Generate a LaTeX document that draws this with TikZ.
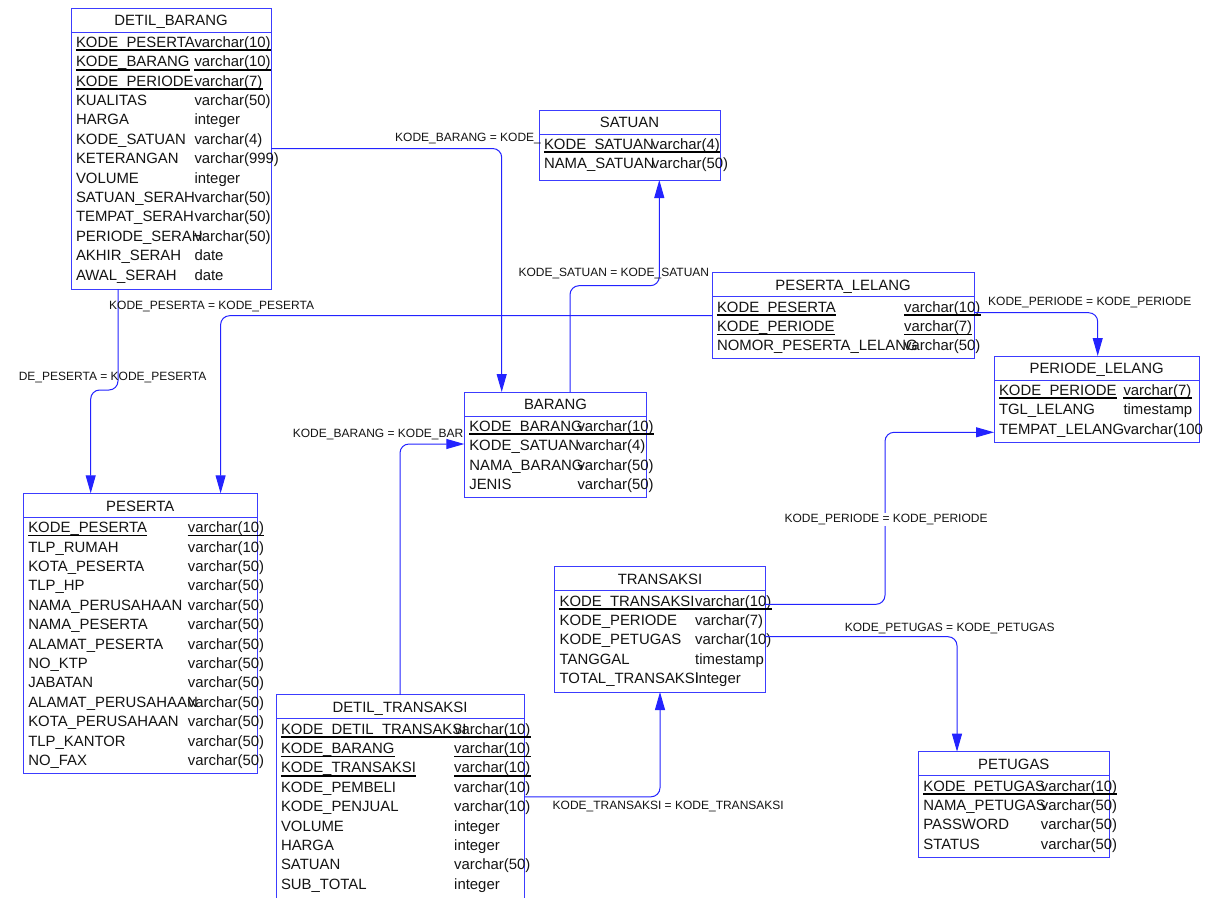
\documentclass[tikz,border=0pt]{standalone}
\usepackage{fontspec}
\setmainfont{Liberation Sans}
\usetikzlibrary{arrows.meta,calc}
\definecolor{erblue}{RGB}{35,35,255}
\definecolor{boxblue}{RGB}{60,60,255}
\definecolor{txt}{RGB}{20,20,20}

\tikzset{
  tbl/.style={draw=boxblue, line width=1pt, fill=white, inner sep=0pt, outer sep=0pt, anchor=north west},
  sepline/.style={draw=boxblue, line width=1pt},
  cell/.style={anchor=base west, inner sep=0pt, text=txt, font=\fontsize{14.9}{17}\selectfont},
  ttl/.style={anchor=base, inner sep=0pt, text=txt, font=\fontsize{14.9}{17}\selectfont},
  keyline/.style={draw=black, line width=1.7pt},
  rel/.style={draw=erblue, line width=1pt, rounded corners=9pt, -{Triangle[length=18pt,width=10pt]}},
  lbl/.style={anchor=base west, inner sep=0pt, text=txt, font=\fontsize{12}{14}\selectfont},
}

% #1 name #2 left #3 right #4 top #5 bottom #6 title #7 col2 x #8 rows
\newcommand\ertable[8]{%
  \pgfmathsetmacro\erw{#3-#2}%
  \pgfmathsetmacro\erh{#5-#4}%
  \node[tbl, minimum width=\erw pt, minimum height=\erh pt] (#1) at (#2,#4) {};
  \draw[sepline] ($(#1.north west)+(0,24)$) -- ($(#1.north east)+(0,24)$);
  \node[ttl] (#1-t) at ($(#1.north)+(0,17.7)$) {#6};
  \foreach \nm/\ty/\k [count=\i] in {#8} {
    \pgfmathsetmacro\yy{#4+39.3+19.4*(\i-1)}
    \node[cell] (#1-n\i) at ({#2+4.8},\yy) {\nm};
    \node[cell] (#1-d\i) at (#7,\yy) {\ty};
    \ifnum\k=1
      \draw[keyline] ([yshift=-3pt]#1-n\i.base west) -- ([yshift=-3pt]#1-n\i.base east);
      \draw[keyline] ([yshift=-3pt]#1-d\i.base west) -- ([yshift=-3pt]#1-d\i.base east);
    \fi
  }
}

\begin{document}
\begin{tikzpicture}[x=1pt,y=-1pt]
\path[use as bounding box, fill=white] (0,0) rectangle (1207,897);

% tables
\ertable{DB}{71}{271}{8}{289}{DETIL\_BARANG}{194.3}{KODE\_PESERTA/varchar(10)/1, KODE\_BARANG/varchar(10)/1, KODE\_PERIODE/varchar(7)/1, KUALITAS/varchar(50)/0, HARGA/integer/0, KODE\_SATUAN/varchar(4)/0, KETERANGAN/varchar(999)/0, VOLUME/integer/0, SATUAN\_SERAH/varchar(50)/0, TEMPAT\_SERAH/varchar(50)/0, PERIODE\_SERAH/varchar(50)/0, AKHIR\_SERAH/date/0, AWAL\_SERAH/date/0}

\ertable{SAT}{539}{720}{110}{180}{SATUAN}{651.7}{KODE\_SATUAN/varchar(4)/1, NAMA\_SATUAN/varchar(50)/0}

\ertable{PL}{712}{974}{272.7}{358.7}{PESERTA\_LELANG}{904}{KODE\_PESERTA/varchar(10)/1, KODE\_PERIODE/varchar(7)/1, NOMOR\_PESERTA\_LELANG/varchar(50)/0}

\ertable{PER}{994}{1199.3}{356}{442}{PERIODE\_LELANG}{1123.3}{KODE\_PERIODE/varchar(7)/1, TGL\_LELANG/timestamp/0, TEMPAT\_LELANG/varchar(100/0}

\ertable{BAR}{464.3}{646.7}{392}{497.3}{BARANG}{577.3}{KODE\_BARANG/varchar(10)/1, KODE\_SATUAN/varchar(4)/0, NAMA\_BARANG/varchar(50)/0, JENIS/varchar(50)/0}

\ertable{PES}{23.3}{257.3}{493.3}{773.3}{PESERTA}{187.7}{KODE\_PESERTA/varchar(10)/1, TLP\_RUMAH/varchar(10)/0, KOTA\_PESERTA/varchar(50)/0, TLP\_HP/varchar(50)/0, NAMA\_PERUSAHAAN/varchar(50)/0, NAMA\_PESERTA/varchar(50)/0, ALAMAT\_PESERTA/varchar(50)/0, NO\_KTP/varchar(50)/0, JABATAN/varchar(50)/0, ALAMAT\_PERUSAHAAN/varchar(50)/0, KOTA\_PERUSAHAAN/varchar(50)/0, TLP\_KANTOR/varchar(50)/0, NO\_FAX/varchar(50)/0}

\ertable{TRA}{554.6}{765.4}{566.7}{692}{TRANSAKSI}{695}{KODE\_TRANSAKSI/varchar(10)/1, KODE\_PERIODE/varchar(7)/0, KODE\_PETUGAS/varchar(10)/0, TANGGAL/timestamp/0, TOTAL\_TRANSAKSI/integer/0}

\ertable{DT}{276}{524}{694.8}{898}{DETIL\_TRANSAKSI}{454}{KODE\_DETIL\_TRANSAKSI/varchar(10)/1, KODE\_BARANG/varchar(10)/1, KODE\_TRANSAKSI/varchar(10)/1, KODE\_PEMBELI/varchar(10)/0, KODE\_PENJUAL/varchar(10)/0, VOLUME/integer/0, HARGA/integer/0, SATUAN/varchar(50)/0, SUB\_TOTAL/integer/0}

\ertable{PET}{918.3}{1109.3}{751.7}{857.3}{PETUGAS}{1040.7}{KODE\_PETUGAS/varchar(10)/1, NAMA\_PETUGAS/varchar(50)/0, PASSWORD/varchar(50)/0, STATUS/varchar(50)/0}

% relationships
\draw[rel] (DB.east) -| ([xshift=37.4pt]BAR.north west);
\draw[rel] ([xshift=105.7pt]BAR.north west) -- ++(0,-106.3) -| ([xshift=120.3pt]SAT.south west);
\draw[rel] (PL.west) -| ([xshift=197.3pt]PES.north west);
\draw[rel] ([xshift=47pt]DB.south west) -- ++(0,101) -| ([xshift=67.4pt]PES.north west);
\draw[rel] ([yshift=-37.6pt]TRA.north east) -- ++(119.6,0) |- ([yshift=-76.3pt]PER.north west);
\draw[rel] ([yshift=-40pt]PL.north east) -| ([xshift=103.7pt]PER.north west);
\draw[rel] ([yshift=-70pt]TRA.north east) -| ([xshift=38.7pt]PET.north west);
\draw[rel] ([yshift=-102pt]DT.north east) -| ([xshift=105.4pt]TRA.south west);
\draw[rel] ([xshift=124pt]DT.north west) |- ([yshift=-52pt]BAR.north west);

% labels
\node[lbl] (l1) at (395,141.5) {KODE\_BARANG = KODE\_};
\node[lbl] (l2) at (518.3,276) {KODE\_SATUAN = KODE\_SATUAN};
\node[lbl] (l3) at (109,309) {KODE\_PESERTA = KODE\_PESERTA};
\node[lbl, anchor=base east] (l4) at (206.5,380) {DE\_PESERTA = KODE\_PESERTA};
\node[lbl, fill=white, inner sep=1pt] (l5) at (783.3,522.3) {KODE\_PERIODE = KODE\_PERIODE};
\node[lbl] (l6) at (988,305.7) {KODE\_PERIODE = KODE\_PERIODE};
\node[lbl] (l7) at (844.6,631) {KODE\_PETUGAS = KODE\_PETUGAS};
\node[lbl] (l8) at (552.5,809.5) {KODE\_TRANSAKSI = KODE\_TRANSAKSI};
\node[lbl] (l9) at (292.7,437) {KODE\_BARANG = KODE\_BAR};
\end{tikzpicture}
\end{document}
